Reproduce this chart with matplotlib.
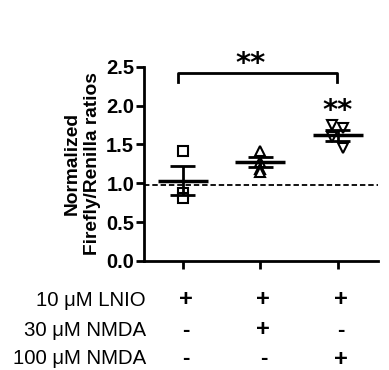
import matplotlib
matplotlib.use("Agg")
import matplotlib.pyplot as plt
from matplotlib.transforms import blended_transform_factory

plt.rcParams['font.family'] = ['Liberation Sans', 'DejaVu Sans']

# data
groups = [0, 1, 2]
g1_x = [0.0, 0.0, 0.0]
g1_y = [1.41, 0.88, 0.81]
g2_x = [1.0, 1.0, 1.0, 1.0]
g2_y = [1.41, 1.27, 1.19, 1.15]
g3_x = [1.93, 2.07, 1.93, 2.07]
g3_y = [1.75, 1.71, 1.60, 1.45]
means = [1.035, 1.27, 1.615]
sems = [0.185, 0.065, 0.065]
baseline = 0.98
yticks = [0.0, 0.5, 1.0, 1.5, 2.0, 2.5]
row_labels = ['10 \u03bcM LNIO', '30 \u03bcM NMDA', '100 \u03bcM NMDA']
row_signs = [['+', '+', '+'], ['-', '+', '-'], ['-', '-', '+']]
ylabel = 'Normalized\nFirefly/Renilla ratios'

fig = plt.figure(figsize=(3.89, 3.70), dpi=100)
ax = fig.add_axes([0.370, 0.2946, 0.602, 0.5251])

ax.plot(g1_x, g1_y, linestyle='none', marker='s', markersize=6.5,
        markerfacecolor='white', markeredgecolor='black', markeredgewidth=1.5, zorder=3)
ax.plot(g2_x, g2_y, linestyle='none', marker='^', markersize=7.5,
        markerfacecolor='white', markeredgecolor='black', markeredgewidth=1.5, zorder=3)
ax.plot(g3_x, g3_y, linestyle='none', marker='v', markersize=7.5,
        markerfacecolor='white', markeredgecolor='black', markeredgewidth=1.5, zorder=3)

for g, m, s in zip(groups, means, sems):
    ax.hlines(m, g - 0.32, g + 0.32, color='black', linewidth=2.5, zorder=4)
    ax.vlines(g, m - s, m + s, color='black', linewidth=2, zorder=4)
    ax.hlines([m - s, m + s], g - 0.16, g + 0.16, color='black', linewidth=2, zorder=4)

ax.axhline(baseline, color='black', linestyle=(0, (3, 1.6)), linewidth=1.3, zorder=2)

# significance bracket
ax.plot([-0.06, -0.06, 1.99, 1.99], [2.30, 2.42, 2.42, 2.30], color='black',
        linewidth=2, clip_on=False)
ax.text(0.87, 2.43, '**', ha='center', va='baseline', fontsize=21, fontweight='bold',
        family=['DejaVu Sans'], clip_on=False)
ax.text(2.0, 1.83, '**', ha='center', va='baseline', fontsize=21, fontweight='bold',
        family=['DejaVu Sans'])

ax.set_xlim(-0.5, 2.52)
ax.set_ylim(0, 2.5)
ax.set_yticks(yticks)
ax.set_yticklabels([f'{v:.1f}' for v in yticks], fontsize=14.5, fontweight='bold')
ax.set_xticks(groups)
ax.set_xticklabels([])
for side in ['top', 'right']:
    ax.spines[side].set_visible(False)
for side in ['left', 'bottom']:
    ax.spines[side].set_linewidth(2)
ax.tick_params(axis='both', width=2, length=6, direction='out', pad=1)

ax.set_ylabel(ylabel, fontsize=13.8, fontweight='bold', linespacing=1.2)
ax.yaxis.set_label_coords(-0.185, 0.5)

# treatment table
tr = blended_transform_factory(ax.transData, fig.transFigure)
row_y = [300, 330, 359]
for lab, signs, py in zip(row_labels, row_signs, row_y):
    yf = 1 - py / 370
    fig.text(146 / 389, yf, lab, ha='right', va='center', fontsize=14.7)
    for g, s in zip(groups, signs):
        ax.text(g + 0.04, yf, s, transform=tr, ha='center', va='center',
                fontsize=17 if s == '+' else 16, fontweight='bold')

fig.savefig('out.png', dpi=100)
